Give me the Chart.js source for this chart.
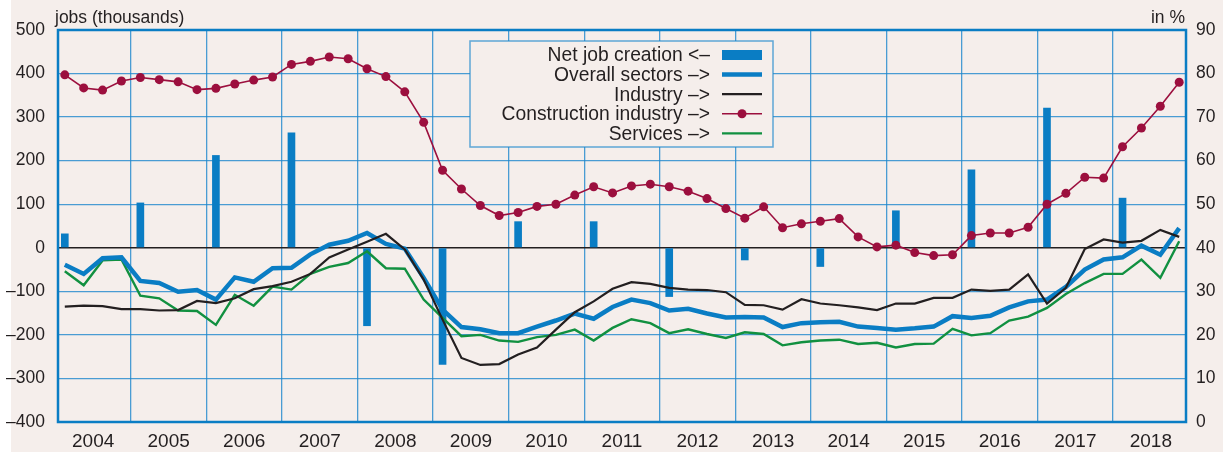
<!DOCTYPE html>
<html lang="en">
<head>
<meta charset="UTF-8">
<title>Net job creation and employment expectations</title>
<script src="https://cdn.jsdelivr.net/npm/chart.js"></script>
<style>
  body { margin: 0; background: #ffffff; }
  #wrap { width: 1223px; height: 452px; }
</style>
</head>
<body>
<div id="wrap"><canvas id="jobsChart" width="1223" height="452"></canvas></div>

<script>
// years shown under the x axis, 4 quarters each (2004 Q1 .. 2018 Q4)
const years = ['2004', '2005', '2006', '2007', '2008', '2009', '2010', '2011', '2012', '2013', '2014', '2015', '2016', '2017', '2018'];

// net job creation, thousands, one bar per year (first quarter), left axis
const netJobs = [32, 103, 212, 264, -179, -268, 60, 60, -112, -28, -43, 85, 179, 321, 114];

// quarterly balances in %, right axis
const overall = [36.1, 34.0, 37.6, 37.8, 32.4, 31.9, 29.9, 30.3, 28.1, 33.2, 32.2, 35.3,
  35.4, 38.5, 40.7, 41.6, 43.4, 40.9, 39.8, 33.1, 25.8, 21.8, 21.3, 20.4,
  20.4, 21.9, 23.3, 24.9, 23.7, 26.4, 28.1, 27.3, 25.6, 26.0, 24.9, 24.0,
  24.1, 24.0, 21.8, 22.7, 22.9, 23.0, 21.9, 21.6, 21.2, 21.5, 21.9, 24.3,
  23.9, 24.4, 26.3, 27.7, 28.1, 31.0, 35.0, 37.3, 37.8, 40.5, 38.4, 44.5];

const industry = [26.5, 26.7, 26.6, 25.9, 25.9, 25.6, 25.7, 27.8, 27.3, 28.4, 30.5, 31.2,
  32.2, 34.0, 37.8, 39.6, 41.4, 43.2, 39.6, 32.7, 23.5, 14.7, 13.1, 13.3,
  15.5, 17.1, 21.2, 25.2, 27.7, 30.6, 32.1, 31.7, 30.8, 30.4, 30.3, 29.8,
  26.9, 26.8, 25.8, 28.2, 27.2, 26.8, 26.3, 25.7, 27.2, 27.2, 28.5, 28.5,
  30.4, 30.1, 30.4, 33.9, 27.2, 30.8, 39.7, 41.9, 41.2, 41.6, 44.1, 42.5];

const construction = [79.7, 76.7, 76.2, 78.3, 79.1, 78.6, 78.1, 76.3, 76.6, 77.6, 78.5, 79.2,
  82.1, 82.8, 83.8, 83.4, 81.1, 79.3, 75.8, 68.8, 57.8, 53.5, 49.7, 47.4,
  48.1, 49.5, 50.0, 52.1, 54.0, 52.6, 54.2, 54.6, 54.0, 53.0, 51.3, 49.0,
  46.8, 49.4, 44.6, 45.5, 46.1, 46.7, 42.5, 40.2, 40.6, 38.9, 38.2, 38.4,
  42.8, 43.4, 43.4, 44.7, 50.0, 52.5, 56.2, 56.0, 63.2, 67.5, 72.5, 78.0];

const services = [34.6, 31.4, 37.1, 37.3, 29.0, 28.4, 25.6, 25.5, 22.3, 29.2, 26.7, 31.1,
  30.4, 34.0, 35.6, 36.5, 39.2, 35.3, 35.2, 28.1, 23.9, 19.7, 20.0, 18.7,
  18.4, 19.5, 20.0, 21.2, 18.7, 21.6, 23.6, 22.7, 20.4, 21.3, 20.2, 19.3,
  20.6, 20.2, 17.6, 18.3, 18.7, 18.9, 17.9, 18.2, 17.1, 17.9, 18.0, 21.4,
  19.9, 20.4, 23.3, 24.2, 26.2, 29.4, 31.9, 34.0, 34.0, 37.3, 33.1, 41.5];

const BG = '#f5eeeb';
const BLUE = '#0a7dc4';
const GRID = 'rgba(30,135,205,0.8)';
const INK = '#231f20';
const MAROON = '#9c0f3e';
const GREEN = '#119040';
const FONT = '"Liberation Sans", Arial, sans-serif';

const isBoundary = v => Math.abs(((v + 0.5) % 4)) < 1e-6;

function xy(arr) {
  return arr.map((v, i) => ({ x: i, y: v }));
}

// page background, the frame round the plot and the boxed legend
const paperPlugin = {
  id: 'paper',
  beforeDraw(chart) {
    const c = chart.ctx;
    c.save();
    c.fillStyle = BG;
    c.fillRect(11, 0, chart.width - 11, chart.height);
    c.restore();
  },
  afterDraw(chart) {
    const c = chart.ctx;
    const a = chart.chartArea;
    c.save();
    c.strokeStyle = BLUE;
    c.lineWidth = 2.5;
    c.strokeRect(a.left, a.top, a.right - a.left, a.bottom - a.top);

    // axis captions
    c.fillStyle = INK;
    c.font = '17.5px ' + FONT;
    c.textBaseline = 'alphabetic';
    c.textAlign = 'left';
    c.fillText('jobs (thousands)', 55, 23);
    c.textAlign = 'right';
    c.fillText('in %', 1185, 23);

    // legend box
    const bx = 470, by = 41, bw = 303, bh = 106;
    c.fillStyle = BG;
    c.fillRect(bx, by, bw, bh);
    c.strokeStyle = 'rgba(30,135,205,0.7)';
    c.lineWidth = 1.5;
    c.strokeRect(bx, by, bw, bh);

    const rows = chart.data.datasets.slice().sort((p, q) => p.legendRow - q.legendRow);
    rows.forEach((ds, r) => {
      const y = 55 + r * 19.6;
      c.fillStyle = INK;
      c.font = '19.3px ' + FONT;
      c.textAlign = 'right';
      c.textBaseline = 'middle';
      c.fillText(ds.label, 710, y + 1);
      const x0 = 722, x1 = 762;
      if (ds.type === 'bar') {
        c.fillStyle = ds.backgroundColor;
        c.fillRect(x0, y - 5, x1 - x0, 10);
      } else {
        c.strokeStyle = ds.borderColor;
        c.lineWidth = ds.borderWidth;
        c.beginPath();
        c.moveTo(x0, y);
        c.lineTo(x1, y);
        c.stroke();
        if (ds.pointRadius > 0) {
          c.fillStyle = ds.borderColor;
          c.beginPath();
          c.arc((x0 + x1) / 2, y, ds.pointRadius, 0, Math.PI * 2);
          c.fill();
        }
      }
    });
    c.restore();
  }
};

const ctx = document.getElementById('jobsChart').getContext('2d');

new Chart(ctx, {
  type: 'bar',
  data: {
    datasets: [
      {
        type: 'line',
        label: 'Construction industry \u2013>',
        legendRow: 3,
        data: xy(construction),
        yAxisID: 'y1',
        borderColor: MAROON,
        backgroundColor: MAROON,
        borderWidth: 1.6,
        pointRadius: 4.5,
        pointBorderWidth: 0,
        pointBackgroundColor: MAROON,
        tension: 0,
        order: 0
      },
      {
        type: 'line',
        label: 'Industry \u2013>',
        legendRow: 2,
        data: xy(industry),
        yAxisID: 'y1',
        borderColor: INK,
        borderWidth: 2.2,
        pointRadius: 0,
        tension: 0,
        order: 1
      },
      {
        type: 'line',
        label: 'Overall sectors \u2013>',
        legendRow: 1,
        data: xy(overall),
        yAxisID: 'y1',
        borderColor: BLUE,
        borderWidth: 4.5,
        pointRadius: 0,
        tension: 0,
        order: 2
      },
      {
        type: 'line',
        label: 'Services \u2013>',
        legendRow: 4,
        data: xy(services),
        yAxisID: 'y1',
        borderColor: GREEN,
        borderWidth: 2.4,
        pointRadius: 0,
        tension: 0,
        order: 3
      },
      {
        type: 'bar',
        label: 'Net job creation <\u2013',
        legendRow: 0,
        data: netJobs.map((v, i) => ({ x: i * 4, y: v })),
        yAxisID: 'y',
        backgroundColor: BLUE,
        borderWidth: 0,
        barThickness: 7,
        order: 4
      }
    ]
  },
  options: {
    responsive: false,
    animation: false,
    devicePixelRatio: 1,
    layout: { padding: { top: 30, left: 0, right: 0, bottom: 0 } },
    plugins: {
      legend: { display: false },
      tooltip: { enabled: false }
    },
    scales: {
      x: {
        type: 'linear',
        offset: false,
        min: -0.36,
        max: 59.36,
        afterBuildTicks(scale) {
          const t = [];
          for (let k = 0; k < years.length; k++) {
            if (k > 0) t.push({ value: 4 * k - 0.5 });
            t.push({ value: 4 * k + 1.5 });
          }
          scale.ticks = t;
        },
        afterFit(scale) { scale.height = 30; },
        border: { display: false },
        grid: {
          offset: false,
          drawTicks: false,
          color: c => (c.tick && isBoundary(c.tick.value)) ? GRID : 'rgba(0,0,0,0)',
          lineWidth: 1.3
        },
        ticks: {
          autoSkip: false,
          maxRotation: 0,
          padding: 8,
          color: INK,
          font: { family: FONT, size: 19 },
          callback: v => isBoundary(v) ? '' : years[Math.round((v - 1.5) / 4)]
        }
      },
      y: {
        position: 'left',
        min: -400,
        max: 500,
        afterFit(scale) { scale.width = 58; },
        border: { display: false },
        grid: {
          drawTicks: false,
          color: c => (c.tick && c.tick.value === 0) ? INK : GRID,
          lineWidth: c => (c.tick && c.tick.value === 0) ? 1.6 : 1.3
        },
        ticks: {
          stepSize: 100,
          padding: 13,
          color: INK,
          font: { family: FONT, size: 17.5 },
          callback: v => String(v).replace('-', '\u2013')
        }
      },
      y1: {
        position: 'right',
        min: 0,
        max: 90,
        afterFit(scale) { scale.width = 37; },
        border: { display: false },
        grid: { display: false, drawTicks: false },
        ticks: {
          stepSize: 10,
          padding: 10,
          color: INK,
          font: { family: FONT, size: 17.5 }
        }
      }
    }
  },
  plugins: [paperPlugin]
});
</script>
</body>
</html>
